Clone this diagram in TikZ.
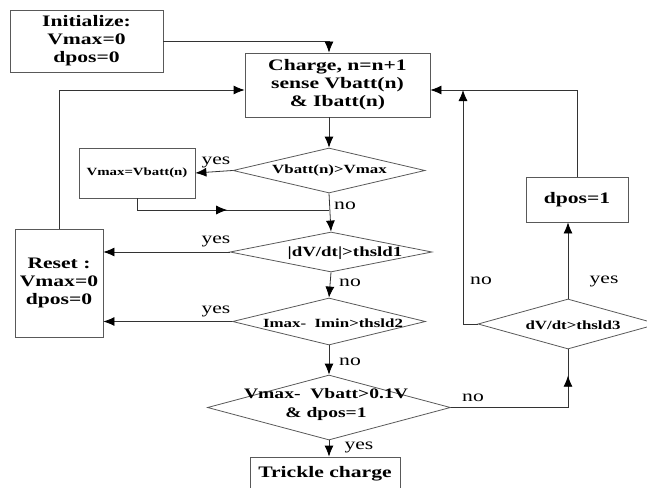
\documentclass[tikz,border=0pt]{standalone}
\usepackage{fontspec}
\setmainfont{Liberation Serif}[FakeStretch=1.35]
\usetikzlibrary{shapes.geometric,arrows.meta,decorations.markings}

\begin{document}
\begin{tikzpicture}[x=1pt, y=-1pt, line width=0.8pt,
    box/.style={draw=black!65, rectangle, inner sep=0pt, align=center, font=\fontsize{16}{18}\selectfont\bfseries},
    decision/.style={draw=black!65, diamond, inner sep=0pt},
    dtext/.style={inner sep=0pt, align=center},
    lbl/.style={inner sep=0pt, font=\fontsize{16}{18}\selectfont},
    flow/.style={draw=black!80},
    tip/.tip={Latex[length=11pt,width=9pt,color=black]},
    >=tip,
    midarrow/.style={postaction={decorate}, decoration={markings, mark=at position #1 with {\arrow{tip}}}}]

    \useasboundingbox (0,0) rectangle (647,487);

    \node[box, minimum width=153pt, minimum height=62pt] (init) at (86.5,41) {Initialize:\\Vmax=0\\dpos=0};
    \node[box, minimum width=185pt, minimum height=64pt] (charge) at (337.5,85) {Charge, n=n+1\\sense Vbatt(n)\\\& Ibatt(n)};
    \node[box, minimum width=116pt, minimum height=50pt, font=\fontsize{11}{13}\selectfont\bfseries] (vmaxset) at (137,173) {Vmax=Vbatt(n)};
    \node[box, minimum width=88pt, minimum height=108pt] (reset) at (59,283) {Reset :\\Vmax=0\\dpos=0};
    \node[box, minimum width=102pt, minimum height=45pt] (dpos) at (577,199.5) {dpos=1};
    \node[box, minimum width=150pt, minimum height=34pt] (trickle) at (325,474) {Trickle charge};

    \node[decision, minimum width=192pt, minimum height=45pt] (d1) at (329,170.5) {};
    \node[decision, minimum width=202pt, minimum height=40pt] (d2) at (331,252) {};
    \node[decision, minimum width=193pt, minimum height=47pt] (d3) at (329,321.5) {};
    \node[decision, minimum width=243pt, minimum height=65pt] (d4) at (329,407.5) {};
    \node[decision, minimum width=180pt, minimum height=50pt] (d5) at (568,324) {};

    \node[dtext, font=\fontsize{12.5}{14}\selectfont\bfseries] (t1) at (329.5,170) {Vbatt(n)>Vmax};
    \node[dtext, font=\fontsize{14}{16}\selectfont\bfseries] (t2) at (345,253) {|dV/dt|>thsld1};
    \node[dtext, font=\fontsize{12.5}{14}\selectfont\bfseries] (t3) at (333,323) {Imax-\ \ Imin>thsld2};
    \node[dtext, font=\fontsize{14.5}{19}\selectfont\bfseries] (t4) at (326,405) {Vmax-\ \ Vbatt>0.1V\\\& dpos=1};
    \node[dtext, font=\fontsize{12.5}{14}\selectfont\bfseries] (t5) at (573,325) {dV/dt>thsld3};

    \coordinate (j1) at (329,210);
    \coordinate (ret) at (463,90);

    \draw[flow, ->] (init.east) -| (charge.north -| d1.north);
    \draw[flow, ->] (charge.south -| d1.north) -- (d1.north);
    \draw[flow, ->] (d1.west) -- (vmaxset.east);
    \draw[flow, midarrow=0.5] (vmaxset.south) |- (j1);
    \draw[flow, ->] (d1.south) -- (d2.north);
    \draw[flow, ->] (d2.west) -- (reset.east |- d2.west);
    \draw[flow, ->] (d2.south) -- (d3.north);
    \draw[flow, ->] (d3.west) -- (reset.east |- d3.west);
    \draw[flow, ->] (d3.south) -- (d4.north);
    \draw[flow, ->] (d4.south) -- (trickle.north -| d4.south);
    \draw[flow, ->] (reset.north) |- ([yshift=-5pt]charge.west);
    \draw[flow, ->] (dpos.north) |- ([yshift=-5pt]charge.east);
    \draw[flow, ->] (d5.west) -| (ret);
    \draw[flow, ->] (d5.north) -- (d5.north |- dpos.south);
    \draw[flow, midarrow=0.85] (d4.east) -| (d5.south);

    \node[lbl] (y1) at (216,162) {yes};
    \node[lbl] (n1) at (345,206) {no};
    \node[lbl] (y2) at (216,241) {yes};
    \node[lbl] (n2) at (350,283) {no};
    \node[lbl] (y3) at (216,311) {yes};
    \node[lbl] (n3) at (350,362) {no};
    \node[lbl] (y4) at (359,447) {yes};
    \node[lbl] (n4) at (473,398) {no};
    \node[lbl] (n5) at (481,281) {no};
    \node[lbl] (y5) at (604,281) {yes};

\end{tikzpicture}
\end{document}
